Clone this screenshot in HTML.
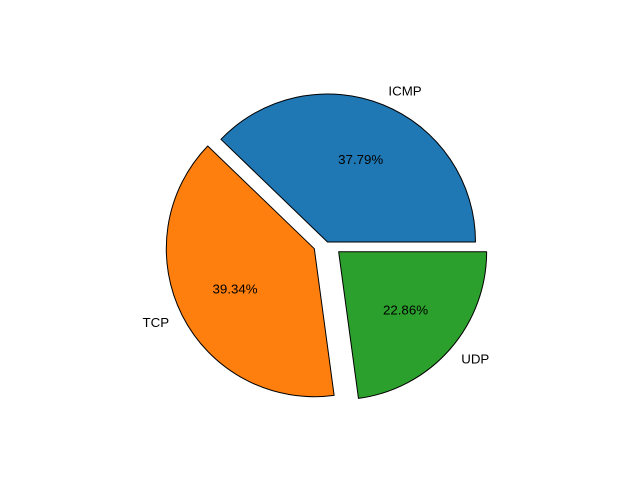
<!DOCTYPE html>
<html><head><meta charset="utf-8"><style>
html,body{margin:0;padding:0;background:#fff;}
svg text{font-family:"Liberation Sans","DejaVu Sans",sans-serif;font-size:13.3px;fill:#000;}
</style></head><body>
<svg id="chart" width="640" height="480" viewBox="0 0 640 480" xmlns="http://www.w3.org/2000/svg">
<rect width="640" height="480" fill="#fff"/>
</svg>
<script>
const categories = ["ICMP", "TCP", "UDP"];
const values = [37.79, 39.34, 22.86];
const explode = [0, 0.1, 0.1];
const colors = ["#1f77b4", "#ff7f0e", "#2ca02c"];
const NS = "http://www.w3.org/2000/svg";
const svg = document.getElementById("chart");
const cx = 327.5, cy = 242, R = 148;
const total = values.reduce((a, b) => a + b, 0);
let start = 0;
function pt(ox, oy, r, deg) { const a = deg * Math.PI / 180; return [ox + r * Math.cos(a), oy - r * Math.sin(a)]; }
values.forEach((v, i) => {
  const sweep = v / total * 360;
  const mid = start + sweep / 2;
  const [ox, oy] = pt(cx, cy, R * explode[i], mid);
  const [x1, y1] = pt(ox, oy, R, start);
  const [x2, y2] = pt(ox, oy, R, start + sweep);
  const p = document.createElementNS(NS, "path");
  p.setAttribute("d", `M${ox},${oy} L${x1},${y1} A${R},${R} 0 ${sweep > 180 ? 1 : 0} 0 ${x2},${y2} Z`);
  p.setAttribute("fill", colors[i]);
  p.setAttribute("stroke", "#000");
  p.setAttribute("stroke-width", "1");
  p.setAttribute("stroke-linejoin", "round");
  
  
  svg.appendChild(p);
  const [lx, ly] = pt(ox, oy, R * 1.1, mid);
  const t = document.createElementNS(NS, "text");
  t.setAttribute("x", lx); t.setAttribute("y", ly + 4.5);
  t.setAttribute("text-anchor", lx > ox ? "start" : "end");
  t.textContent = categories[i];
  
  
  svg.appendChild(t);
  const [px, py] = pt(ox, oy, R * 0.6, mid);
  const t2 = document.createElementNS(NS, "text");
  t2.setAttribute("x", px); t2.setAttribute("y", py + 4.5);
  t2.setAttribute("text-anchor", "middle");
  t2.textContent = v.toFixed(2) + "%";
  
  
  svg.appendChild(t2);
  start += sweep;
});
</script>
</body></html>
